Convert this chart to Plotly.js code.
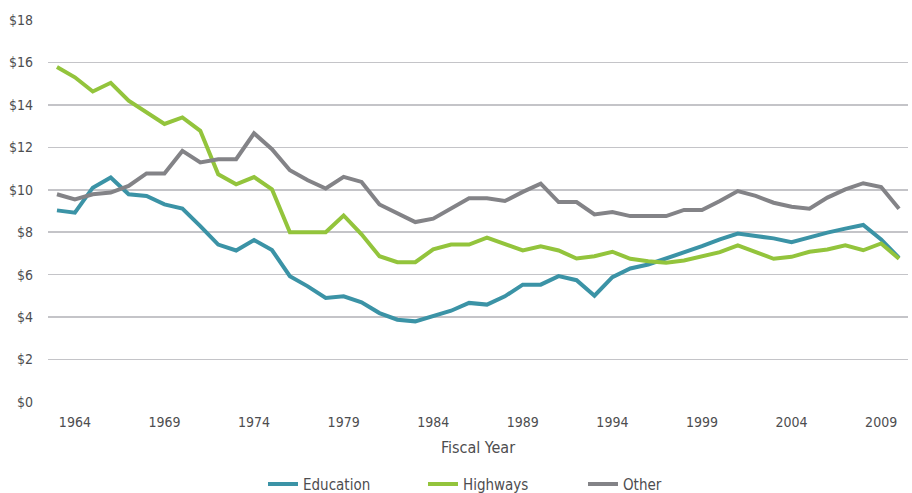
<!DOCTYPE html>
<html>
<head>
<meta charset="utf-8">
<script src="https://cdn.plot.ly/plotly-3.0.1.min.js"></script>
<style>html,body{margin:0;padding:0;background:#fff;}#chart{width:912px;height:493px;}</style>
</head>
<body>
<div id="chart"></div>
<script>
const years = [1963,1964,1965,1966,1967,1968,1969,1970,1971,1972,1973,1974,1975,1976,1977,1978,1979,1980,1981,1982,1983,1984,1985,1986,1987,1988,1989,1990,1991,1992,1993,1994,1995,1996,1997,1998,1999,2000,2001,2002,2003,2004,2005,2006,2007,2008,2009,2010];
const education = [9.03,8.92,10.10,10.58,9.79,9.71,9.31,9.11,8.29,7.42,7.14,7.63,7.16,5.93,5.45,4.90,4.98,4.70,4.19,3.88,3.80,4.03,4.30,4.67,4.59,4.98,5.53,5.53,5.93,5.74,5.01,5.88,6.29,6.48,6.76,7.06,7.34,7.66,7.94,7.82,7.71,7.53,7.77,7.98,8.17,8.34,7.66,6.79];
const highways = [15.78,15.30,14.63,15.04,14.20,13.65,13.10,13.41,12.78,10.73,10.26,10.60,10.02,8.00,8.00,8.00,8.79,7.90,6.87,6.59,6.59,7.19,7.42,7.42,7.74,7.46,7.14,7.34,7.14,6.76,6.87,7.08,6.75,6.63,6.56,6.67,6.87,7.06,7.38,7.06,6.75,6.84,7.08,7.19,7.38,7.15,7.47,6.75];
const other = [9.79,9.55,9.79,9.87,10.18,10.77,10.77,11.83,11.29,11.44,11.44,12.66,11.91,10.92,10.45,10.06,10.61,10.37,9.31,8.92,8.48,8.64,9.11,9.60,9.60,9.47,9.90,10.29,9.42,9.42,8.84,8.95,8.76,8.76,8.76,9.05,9.05,9.47,9.94,9.71,9.39,9.20,9.11,9.63,10.02,10.31,10.13,9.11];
const tickYears = [1964,1969,1974,1979,1984,1989,1994,1999,2004,2009];
const yTicks = [0,2,4,6,8,10,12,14,16,18];
const yTickText = yTicks.map(v => '$' + v);

const FONT = '"Liberation Sans Narrow", "DejaVu Sans Condensed", "Roboto", sans-serif';
const mk = (name, y, color) => ({
  x: years, y: y, name: name, type: 'scatter', mode: 'lines',
  line: {color: color, width: 4, shape: 'linear'}
});
const data = [
  mk('Education', education, '#3b93a6'),
  mk('Highways', highways, '#93c43c'),
  mk('Other', other, '#838387')
];
const layout = {
  width: 912, height: 493,
  margin: {l: 48, r: 4, t: 20, b: 91},
  paper_bgcolor: '#ffffff', plot_bgcolor: '#ffffff',
  font: {family: FONT, color: '#4d4d4f', size: 14},
  showlegend: true,
  legend: {orientation: 'h', x: 0.25, xanchor: 'left', yref: 'container', y: 0.018, yanchor: 'middle',
           entrywidth: 115, font: {size: 15, color: '#4d4d4f'}, traceorder: 'normal'},
  xaxis: {
    range: [1962.5, 2010.5], tickvals: tickYears, ticktext: tickYears.map(String),
    showgrid: false, zeroline: false, showline: false, ticks: '', ticklabelstandoff: 10,
    tickfont: {size: 14, color: '#4d4d4f'},
    title: {text: 'Fiscal Year', font: {size: 16, color: '#4d4d4f'}, standoff: 12}
  },
  yaxis: {
    range: [0, 18], tickvals: yTicks, ticktext: yTickText,
    showgrid: true, gridcolor: '#c4c4c8', gridwidth: 1.5,
    zeroline: false, showline: false, ticks: '', ticklabelstandoff: 14,
    tickfont: {size: 14, color: '#4d4d4f'}
  }
};
Plotly.newPlot('chart', data, layout, {displayModeBar: false, staticPlot: true});
</script>
</body>
</html>
